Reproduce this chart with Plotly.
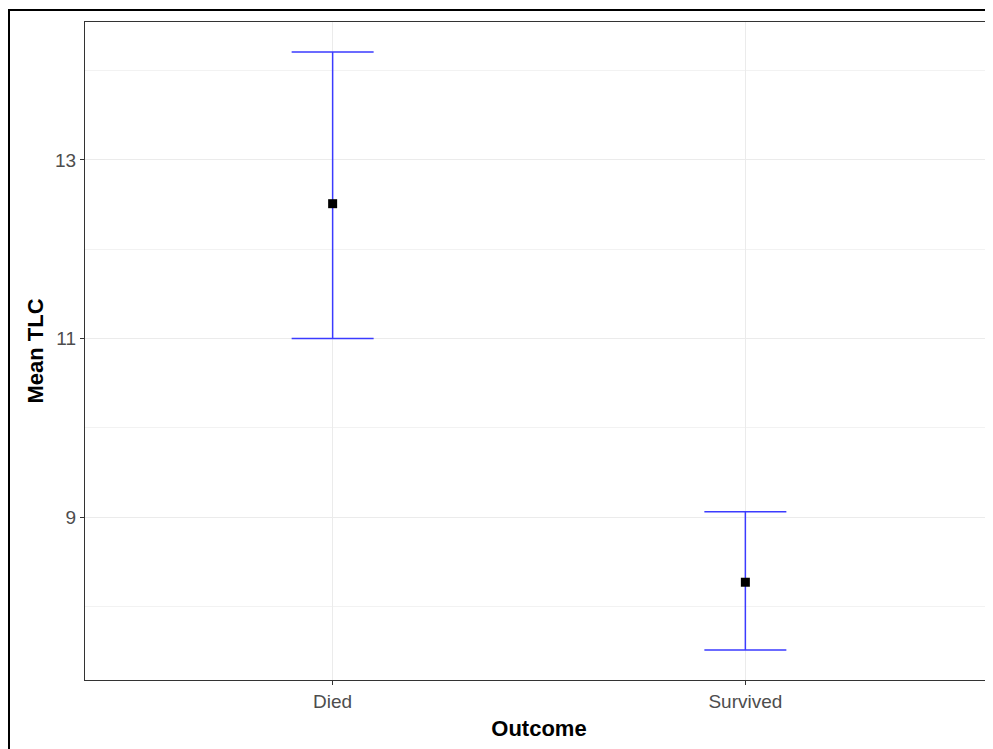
import plotly.graph_objects as go

outcomes = ["Died", "Survived"]
mean_tlc = [12.51, 8.27]
lower_ci = [11.00, 7.51]
upper_ci = [14.21, 9.06]
y_ticks = [9, 11, 13]

err_plus = [u - m for u, m in zip(upper_ci, mean_tlc)]
err_minus = [m - l for m, l in zip(mean_tlc, lower_ci)]

fig = go.Figure()
fig.add_trace(go.Scatter(
    x=outcomes, y=mean_tlc, mode="markers",
    marker=dict(symbol="square", size=9, color="black"),
    error_y=dict(type="data", symmetric=False, array=err_plus, arrayminus=err_minus,
                 color="#3b3bff", thickness=1.5, width=41),
    showlegend=False,
))

# page body has an 8px margin, so the figure starts at (8, 8)
W, H = 985, 741
ML, MR, MT, MB = 77, 0, 14, 69
PW, PH = W - ML - MR, H - MT - MB

fig.update_layout(
    width=W, height=H,
    margin=dict(l=ML, r=MR, t=MT, b=MB),
    paper_bgcolor="white", plot_bgcolor="white",
    font=dict(family="Liberation Sans, Arial, sans-serif"),
    xaxis=dict(
        range=[-0.6, 1.6], type="category",
        showgrid=True, gridcolor="#ebebeb", gridwidth=1,
        showline=True, linecolor="#333333", linewidth=1.3, mirror=True,
        ticks="outside", ticklen=4, tickcolor="#333333", tickwidth=1.2,
        tickfont=dict(size=19, color="#4d4d4d"),
        title=dict(text="<b>Outcome</b>", font=dict(size=22, color="black"), standoff=9),
        zeroline=False,
    ),
    yaxis=dict(
        range=[7.175, 14.545],
        tickvals=y_ticks, ticktext=[str(v) for v in y_ticks],
        showgrid=True, gridcolor="#ebebeb", gridwidth=1,
        minor=dict(tickvals=[8, 10, 12, 14], showgrid=True, gridcolor="#f2f2f2", gridwidth=1),
        showline=True, linecolor="#333333", linewidth=1.3, mirror=True,
        ticks="outside", ticklen=4, tickcolor="#333333", tickwidth=1.2,
        tickfont=dict(size=19, color="#4d4d4d"),
        title=dict(text="<b>Mean TLC</b>", font=dict(size=22, color="black"), standoff=5),
        zeroline=False,
    ),
)

# outer frame of the figure image
fig.add_shape(type="rect", xref="paper", yref="paper",
              x0=(1 - ML) / PW, x1=1.2, y0=-0.2, y1=1 + (MT - 2) / PH,
              line=dict(color="black", width=2), fillcolor="rgba(0,0,0,0)", layer="above")

fig.write_html("out.html")
